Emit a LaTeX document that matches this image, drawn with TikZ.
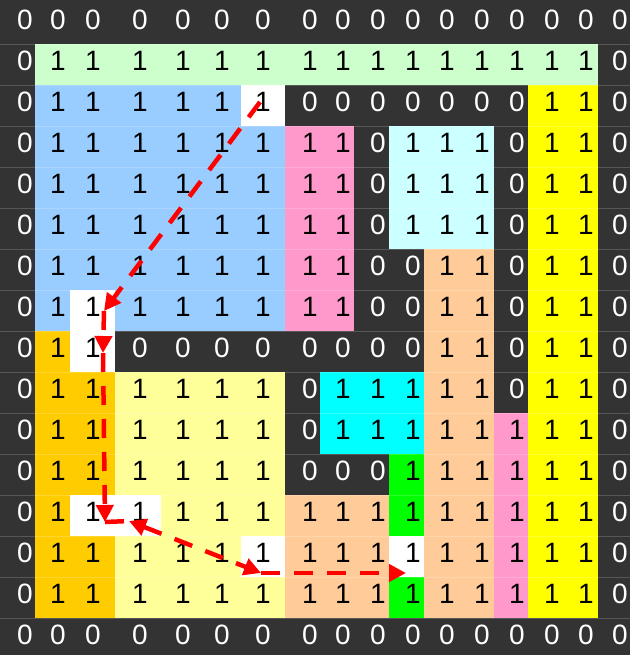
\documentclass[tikz,border=0pt]{standalone}
\usepackage{fontspec}
\setmainfont{Liberation Sans}
\usetikzlibrary{arrows.meta}

\definecolor{darkcell}{HTML}{333333}
\definecolor{mintcell}{HTML}{CCFFCC}
\definecolor{skycell}{HTML}{99CCFF}
\definecolor{rosecell}{HTML}{FF99CC}
\definecolor{icecell}{HTML}{CCFFFF}
\definecolor{lemoncell}{HTML}{FFFF00}
\definecolor{peachcell}{HTML}{FFCC99}
\definecolor{ambercell}{HTML}{FFCC00}
\definecolor{creamcell}{HTML}{FFFF99}
\definecolor{aquacell}{HTML}{00FFFF}
\definecolor{limecell}{HTML}{00FF00}
\colorlet{ink0}{white}
\colorlet{ink1}{black}

% column edges and text positions (px)
\def\colx{{0,35,70,115,161,201,241,285,320,354,389,424,459,494,528,563,598,630}}
\def\textx{{25,58,93,140,183,222,263,310,343,378,413,447,482,517,552,586,620}}

% fill columns #2..#4, rows #3..#5
\newcommand{\cellblock}[5]{%
    \pgfmathsetmacro{\blockl}{\colx[#2]}%
    \pgfmathsetmacro{\blockr}{\colx[#4+1]}%
    \fill[#1] (\blockl,{3+41*#3}) rectangle (\blockr,{44+41*#5});%
}

\tikzset{
    digit/.style={inner sep=0pt, font=\fontsize{28}{28}\selectfont},
    gridline/.style={white, opacity=0.18, line width=0.8pt},
    route/.style={red, line width=4.5pt, dash pattern=on 19pt off 14pt, ->}
}

\begin{document}
\begin{tikzpicture}[x=1pt, y=-1pt, >={Triangle[length=17pt, width=17pt]}]
            \useasboundingbox (0,0) rectangle (630,655);
            \fill[darkcell] (0,0) rectangle (630,655);

            % coloured blocks
            \cellblock{mintcell}{1}{1}{15}{1}
            \cellblock{skycell}{1}{2}{6}{7}
            \cellblock{rosecell}{7}{3}{8}{7}
            \cellblock{icecell}{10}{3}{12}{5}
            \cellblock{lemoncell}{14}{2}{15}{14}
            \cellblock{peachcell}{11}{6}{12}{14}
            \cellblock{peachcell}{7}{12}{9}{14}
            \cellblock{ambercell}{1}{8}{2}{14}
            \cellblock{creamcell}{3}{9}{6}{14}
            \cellblock{aquacell}{8}{9}{10}{10}
            \cellblock{limecell}{10}{11}{10}{14}
            \cellblock{rosecell}{13}{10}{13}{14}

            % visited cells
            \cellblock{white}{6}{2}{6}{2}
            \cellblock{white}{2}{7}{2}{8}
            \cellblock{white}{2}{12}{3}{12}
            \cellblock{white}{6}{13}{6}{13}
            \cellblock{white}{10}{13}{10}{13}

            % faint row lines
            \foreach \r in {1,...,15}
                \draw[gridline] (0,{3+41*\r}) -- (630,{3+41*\r});

            % cell values
            \foreach [count=\r from 0] \bits in {
                {0,0,0,0,0,0,0,0,0,0,0,0,0,0,0,0,0},
                {0,1,1,1,1,1,1,1,1,1,1,1,1,1,1,1,0},
                {0,1,1,1,1,1,1,0,0,0,0,0,0,0,1,1,0},
                {0,1,1,1,1,1,1,1,1,0,1,1,1,0,1,1,0},
                {0,1,1,1,1,1,1,1,1,0,1,1,1,0,1,1,0},
                {0,1,1,1,1,1,1,1,1,0,1,1,1,0,1,1,0},
                {0,1,1,1,1,1,1,1,1,0,0,1,1,0,1,1,0},
                {0,1,1,1,1,1,1,1,1,0,0,1,1,0,1,1,0},
                {0,1,1,0,0,0,0,0,0,0,0,1,1,0,1,1,0},
                {0,1,1,1,1,1,1,0,1,1,1,1,1,0,1,1,0},
                {0,1,1,1,1,1,1,0,1,1,1,1,1,1,1,1,0},
                {0,1,1,1,1,1,1,0,0,0,1,1,1,1,1,1,0},
                {0,1,1,1,1,1,1,1,1,1,1,1,1,1,1,1,0},
                {0,1,1,1,1,1,1,1,1,1,1,1,1,1,1,1,0},
                {0,1,1,1,1,1,1,1,1,1,1,1,1,1,1,1,0},
                {0,0,0,0,0,0,0,0,0,0,0,0,0,0,0,0,0}}{
                \foreach [count=\c from 0] \v in \bits {
                    \pgfmathsetmacro{\tx}{\textx[\c]}
                    \node[digit, text=ink\v] (c-\r-\c) at (\tx,{19.5+41*\r}) {\v};
                }
            }

            % search path
            \coordinate (s0) at (260,102);
            \coordinate (s1) at (104,311);
            \coordinate (s2) at (103,353);
            \coordinate (s3) at (105,522);
            \coordinate (s4) at (129,521);
            \coordinate (s5) at (261,573);
            \coordinate (s6) at (406,573);
            \draw[route] (s0) -- (s1);
            \draw[route] (s1) -- (s2);
            \draw[route] (s2) -- (s3);
            \draw[route, -] (s3) -- (s4);
            \draw[route, <->] (s4) -- (s5);
            \draw[route] (s5) -- (s6);
        \end{tikzpicture}
\end{document}
